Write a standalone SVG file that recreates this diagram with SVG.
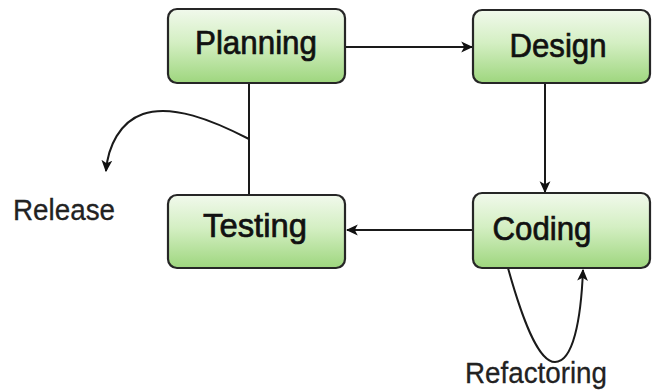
<svg xmlns="http://www.w3.org/2000/svg" width="660" height="392" viewBox="0 0 660 392">
  <defs>
    <linearGradient id="boxFill" x1="0" y1="0" x2="0" y2="1">
      <stop offset="0" stop-color="#f1f9ec"/>
      <stop offset="0.45" stop-color="#d4efc3"/>
      <stop offset="1" stop-color="#9ed67e"/>
    </linearGradient>
    <marker id="arrow" viewBox="0 0 10 10" refX="9" refY="5" markerWidth="12" markerHeight="12" markerUnits="userSpaceOnUse" orient="auto">
      <path d="M0,0.5 L10,5 L0,9.5 L2.5,5 Z" fill="#111"/>
    </marker>
    <style>
      .box { fill: url(#boxFill); stroke: #262626; stroke-width: 2.2; }
      .label { font-family: "Liberation Sans", Arial, sans-serif; font-size: 33px; fill: #111; stroke: #111; stroke-width: 0.7; }
      .free { font-family: "Liberation Sans", Arial, sans-serif; font-size: 30px; fill: #222; stroke: #222; stroke-width: 0.3; }
      .edge { fill: none; stroke: #1a1a1a; stroke-width: 2; }
    </style>
  </defs>

  <rect width="660" height="392" fill="#ffffff"/>

  <g id="connectors">
    <line class="edge" x1="345" y1="47" x2="472" y2="47" marker-end="url(#arrow)"/>
    <line class="edge" x1="545" y1="83" x2="545" y2="192" marker-end="url(#arrow)"/>
    <line class="edge" x1="473" y1="230" x2="347" y2="230" marker-end="url(#arrow)"/>
    <line class="edge" x1="249" y1="83" x2="249" y2="195"/>
    <path class="edge" d="M249,139 C212,120 172,104 143,114 C120,122 108,146 106,171" marker-end="url(#arrow)"/>
    <path class="edge" d="M508,268 C522,318 538,362 555,362 C573,362 581,320 583,270" marker-end="url(#arrow)"/>
  </g>

  <g id="planning">
    <rect class="box" x="168" y="9" width="177" height="74" rx="9"/>
    <text class="label" x="256" y="54" text-anchor="middle" textLength="122" lengthAdjust="spacingAndGlyphs">Planning</text>
  </g>

  <g id="design">
    <rect class="box" x="473" y="10" width="177" height="73" rx="9"/>
    <text class="label" x="558" y="57" text-anchor="middle" textLength="97" lengthAdjust="spacingAndGlyphs">Design</text>
  </g>

  <g id="testing">
    <rect class="box" x="168" y="195" width="177" height="73" rx="9"/>
    <text class="label" x="255" y="237" text-anchor="middle" textLength="104" lengthAdjust="spacingAndGlyphs">Testing</text>
  </g>

  <g id="coding">
    <rect class="box" x="473" y="193" width="177" height="75" rx="9"/>
    <text class="label" x="542" y="240" text-anchor="middle" textLength="99" lengthAdjust="spacingAndGlyphs">Coding</text>
  </g>

  <g id="release">
    <text class="free" x="13" y="220" textLength="102" lengthAdjust="spacingAndGlyphs">Release</text>
  </g>

  <g id="refactoring">
    <text class="free" x="465" y="383" textLength="142" lengthAdjust="spacingAndGlyphs">Refactoring</text>
  </g>
</svg>
